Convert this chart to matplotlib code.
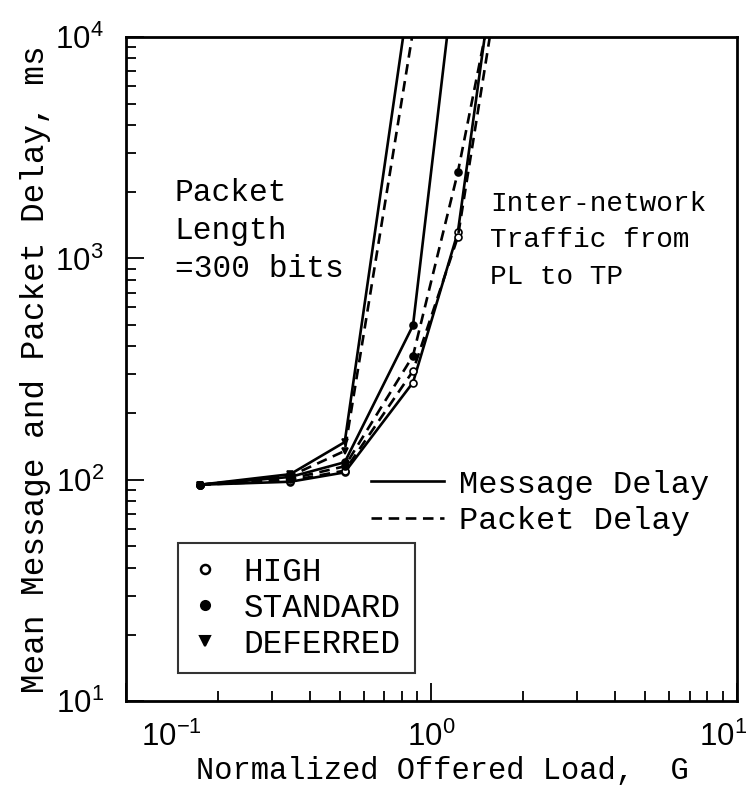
import matplotlib
matplotlib.use("Agg")
import matplotlib.pyplot as plt
from matplotlib.lines import Line2D
from matplotlib.transforms import ScaledTranslation

# ── data ─────────────────────────────────────────────────────────────────────
G_HIGH = [0.175, 0.345, 0.52, 0.87, 1.22, 1.6]
MSG_HIGH = [95, 98, 108, 275, 1313, 20000]
PKT_HIGH = [95, 99, 110, 310, 1250, 13000]

G_STD_MSG = [0.175, 0.345, 0.52, 0.87, 1.22]
MSG_STD = [95, 103, 120, 498, 26000]
G_STD_PKT = [0.175, 0.345, 0.52, 0.87, 1.22, 1.6]
PKT_STD = [95, 101, 115, 363, 2450, 16000]

G_DEF_MSG = [0.175, 0.345, 0.52, 0.87]
MSG_DEF = [95, 106, 148, 20400]
G_DEF_PKT = [0.175, 0.345, 0.52, 0.95]
PKT_DEF = [95, 104, 135, 22400]

PRIORITIES = ["HIGH", "STANDARD", "DEFERRED"]

# ── style ────────────────────────────────────────────────────────────────────
TEXT_FONT = "Liberation Mono"
TICK_FONT = "Liberation Sans"
INK = "black"
LW = 1.9
DASH = (0, (4, 2.5))

fig = plt.figure(figsize=(7.53, 7.95), dpi=100)
ax = fig.add_axes([0.1673, 0.118, 0.8114, 0.8355])

series = [
    (G_HIGH, MSG_HIGH, "-", "o", "white"),
    (G_HIGH, PKT_HIGH, DASH, "o", "white"),
    (G_STD_MSG, MSG_STD, "-", "o", INK),
    (G_STD_PKT, PKT_STD, DASH, "o", INK),
    (G_DEF_MSG, MSG_DEF, "-", "v", INK),
    (G_DEF_PKT, PKT_DEF, DASH, "v", INK),
]
for g, d, ls, mk, face in series:
    ax.plot(g, d, color=INK, lw=LW, linestyle=ls, marker=mk, ms=5,
            mfc=face, mec=INK, mew=1.2)

ax.set_xscale("log")
ax.set_yscale("log")
ax.set_xlim(0.1, 10)
ax.set_ylim(10, 1e4)

for s in ax.spines.values():
    s.set_linewidth(2)
ax.tick_params(which="both", direction="in", top=False, right=False,
               width=1.3, labelfontfamily=TICK_FONT)
ax.tick_params(which="major", length=13, labelsize=22.5)
ax.tick_params(axis="x", which="major", pad=15)
ax.tick_params(axis="y", which="major", pad=16)
ax.tick_params(which="minor", length=7)

# the outer x tick labels sit inside the figure in the reference
locs = list(ax.get_xticks())
xticks = ax.xaxis.get_major_ticks()
for val, dx in ((0.1, 33), (10, -10)):
    i = min(range(len(locs)), key=lambda k: abs(locs[k] - val))
    lab = xticks[i].label1
    lab.set_transform(lab.get_transform()
                      + ScaledTranslation(dx / 72, 0, fig.dpi_scale_trans))

ax.set_xlabel("Normalized Offered Load,  G", fontfamily=TEXT_FONT,
              fontsize=22)
ax.xaxis.set_label_coords(0.518, -0.082)
ax.set_ylabel("Mean Message and Packet Delay, ms", fontfamily=TEXT_FONT,
              fontsize=23.5, labelpad=3)

# annotations
ax.text(0.08, 0.787, "Packet\nLength\n=300 bits", transform=ax.transAxes,
        fontfamily=TEXT_FONT, fontsize=22.5, va="top", ha="left",
        linespacing=1.33)
ax.text(0.596, 0.768, "Inter-network\nTraffic from\nPL to TP",
        transform=ax.transAxes, fontfamily=TEXT_FONT, fontsize=20,
        va="top", ha="left", linespacing=1.52)

# line-style legend
style_handles = [
    Line2D([], [], color=INK, lw=LW, linestyle="-"),
    Line2D([], [], color=INK, lw=LW, linestyle=DASH),
]
leg1 = ax.legend(style_handles, ["Message Delay", "Packet Delay"],
                 loc="upper left", bbox_to_anchor=(0.38, 0.368),
                 frameon=False, handlelength=2.3, handletextpad=0.45,
                 labelspacing=0.2, borderaxespad=0,
                 prop={"family": TEXT_FONT, "size": 23})
ax.add_artist(leg1)

# priority marker legend
marker_handles = [
    Line2D([], [], color=INK, linestyle="", marker="o", ms=6.5,
           mfc="white", mew=1.8),
    Line2D([], [], color=INK, linestyle="", marker="o", ms=6.5, mew=1.5),
    Line2D([], [], color=INK, linestyle="", marker="v", ms=7, mew=1.5),
]
leg2 = ax.legend(marker_handles, PRIORITIES, loc="lower left",
                 bbox_to_anchor=(0.085, 0.042), frameon=True, fancybox=False,
                 handlelength=0.8, handletextpad=0.8, labelspacing=0.15,
                 borderpad=0.42, borderaxespad=0,
                 prop={"family": TEXT_FONT, "size": 23.5})
leg2.get_frame().set_edgecolor(INK)
leg2.get_frame().set_linewidth(1.5)

fig.savefig("out.png", dpi=100, facecolor="white")
